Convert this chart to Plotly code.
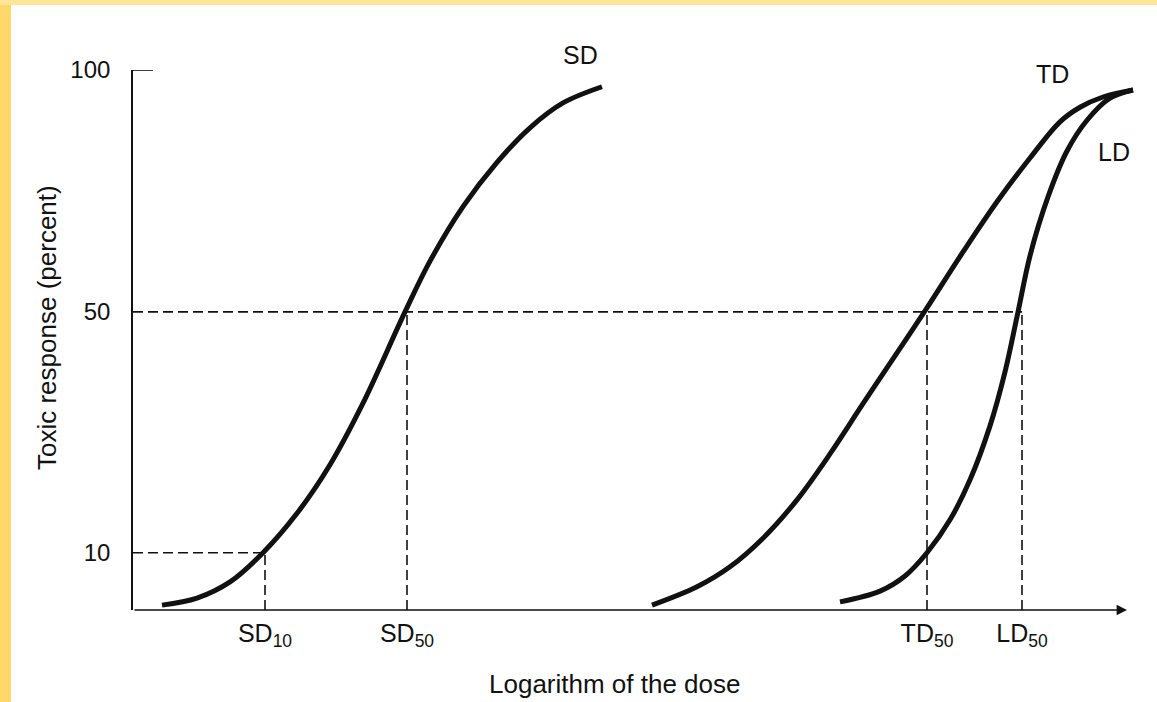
import plotly.graph_objects as go

# ---------------- data ----------------
# x: position along "Logarithm of the dose" (arbitrary drawing units)
# y: height on the drawn response axis (0 = baseline, 100 = top tick)
sd_x = [29, 64, 97, 130, 164, 197, 230, 272, 297, 330, 364, 397, 430, 469]
sd_y = [0.9, 2.2, 5.2, 10.6, 17.9, 26.9, 38.3, 55.2, 64.6, 74.7, 82.9, 89.3, 93.9, 96.9]

td_x = [519, 564, 597, 630, 664, 697, 730, 764, 792, 830, 864, 897, 927, 947, 970, 1000]
td_y = [0.9, 4.3, 8.0, 13.3, 20.4, 28.9, 38.2, 47.6, 55.4, 66.3, 75.6, 83.7, 90.4, 93.1, 95.0, 96.3]

ld_x = [707, 747, 772, 794, 817, 837, 857, 872, 885, 897, 915, 934, 954, 977, 1000]
ld_y = [1.5, 3.5, 6.3, 10.6, 16.7, 24.1, 34.1, 44.1, 55.2, 65.6, 76.5, 85.0, 90.7, 94.8, 96.3]

# response levels (axis position) and their printed labels
level_pos = [10.6, 55.2, 100]
level_text = ["10", "50", "100"]

# marked doses on the x axis
mark_names = ["SD<sub>10</sub>", "SD<sub>50</sub>", "TD<sub>50</sub>", "LD<sub>50</sub>"]
mark_x = [132, 274, 794, 889]
mark_level = [10.6, 55.2, 55.2, 55.2]

curve_names = ["SD", "TD", "LD"]
curve_label_x = [447, 919, 981]
curve_label_y = [102.8, 99.3, 84.8]

x_end = 1010
arrow_end = 994

FONT = "Liberation Sans, Arial, Helvetica, sans-serif"
INK = "#111111"

# pixel geometry of the plot area inside the 1157x702 page
L, T, W, H = 133, 70, 1010, 540


def px(x):
    return (x - L) / W


def py(y):
    return (T + H - y) / H


fig = go.Figure()

# dashed guide lines
dash_style = dict(color=INK, width=1.6, dash="10px,5px")
fig.add_trace(go.Scatter(x=[0, max(mark_x)], y=[level_pos[1], level_pos[1]], mode="lines",
                         line=dash_style, hoverinfo="skip", showlegend=False))
fig.add_trace(go.Scatter(x=[0, mark_x[0]], y=[level_pos[0], level_pos[0]], mode="lines",
                         line=dash_style, hoverinfo="skip", showlegend=False))
for mx, ml in zip(mark_x, mark_level):
    fig.add_trace(go.Scatter(x=[mx, mx], y=[0, ml], mode="lines",
                             line=dash_style, hoverinfo="skip", showlegend=False))

# dose-response curves
for cx, cy, nm in [(sd_x, sd_y, "SD"), (td_x, td_y, "TD"), (ld_x, ld_y, "LD")]:
    fig.add_trace(go.Scatter(x=cx, y=cy, mode="lines", name=nm,
                             line=dict(color=INK, width=5, shape="spline", smoothing=1.0),
                             showlegend=False))

annotations = []
for nm, lx, ly in zip(curve_names, curve_label_x, curve_label_y):
    # placed in paper space so labels above the top of the axis are kept
    annotations.append(dict(x=px(L + lx), y=ly / 100, xref="paper", yref="paper",
                            text=nm, showarrow=False,
                            font=dict(family=FONT, size=25, color=INK),
                            xanchor="center", yanchor="middle"))

# x axis line with arrow
annotations.append(dict(x=arrow_end, y=0, ax=0, ay=0, xref="x", yref="y", axref="x", ayref="y",
                        text="", showarrow=True, arrowhead=2, arrowsize=1.3, arrowwidth=1.6,
                        arrowcolor=INK, standoff=0, startstandoff=0))

# axis titles
annotations.append(dict(x=px(615), y=py(684), xref="paper", yref="paper",
                        text="Logarithm of the dose", showarrow=False,
                        font=dict(family=FONT, size=26, color=INK),
                        xanchor="center", yanchor="middle"))
annotations.append(dict(x=px(47), y=py(328), xref="paper", yref="paper",
                        text="Toxic response (percent)", showarrow=False, textangle=-90,
                        font=dict(family=FONT, size=26, color=INK),
                        xanchor="center", yanchor="middle"))

shapes = [
    # short stub at the top of the y axis
    dict(type="line", xref="x", yref="y", x0=0, x1=20, y0=level_pos[2], y1=level_pos[2],
         line=dict(color=INK, width=1.6)),
    # yellow slide frame (left and top)
    dict(type="rect", xref="paper", yref="paper", x0=px(0), x1=px(11),
         y0=py(702), y1=py(0), fillcolor="#FFD86A", line=dict(width=0), layer="below"),
    dict(type="rect", xref="paper", yref="paper", x0=px(0), x1=px(1157),
         y0=py(5), y1=py(0), fillcolor="#FFE597", line=dict(width=0), layer="below"),
]

fig.update_layout(
    width=1157, height=702,
    margin=dict(l=L, r=1157 - L - W, t=T, b=702 - T - H),
    paper_bgcolor="white", plot_bgcolor="white",
    font=dict(family=FONT, size=24, color=INK),
    annotations=annotations, shapes=shapes,
    xaxis=dict(range=[0, x_end], showgrid=False, zeroline=False, showline=False,
               tickmode="array", tickvals=mark_x, ticktext=mark_names, ticks="",
               tickfont=dict(family=FONT, size=25, color=INK), ticklabelstandoff=6,
               fixedrange=True),
    yaxis=dict(range=[0, 100], showgrid=False, zeroline=False, showline=True,
               linecolor=INK, linewidth=1.6,
               tickmode="array", tickvals=level_pos, ticktext=level_text, ticks="",
               tickfont=dict(family=FONT, size=24, color=INK), ticklabelstandoff=16,
               fixedrange=True),
    showlegend=False,
)

fig.write_html("out.html")
